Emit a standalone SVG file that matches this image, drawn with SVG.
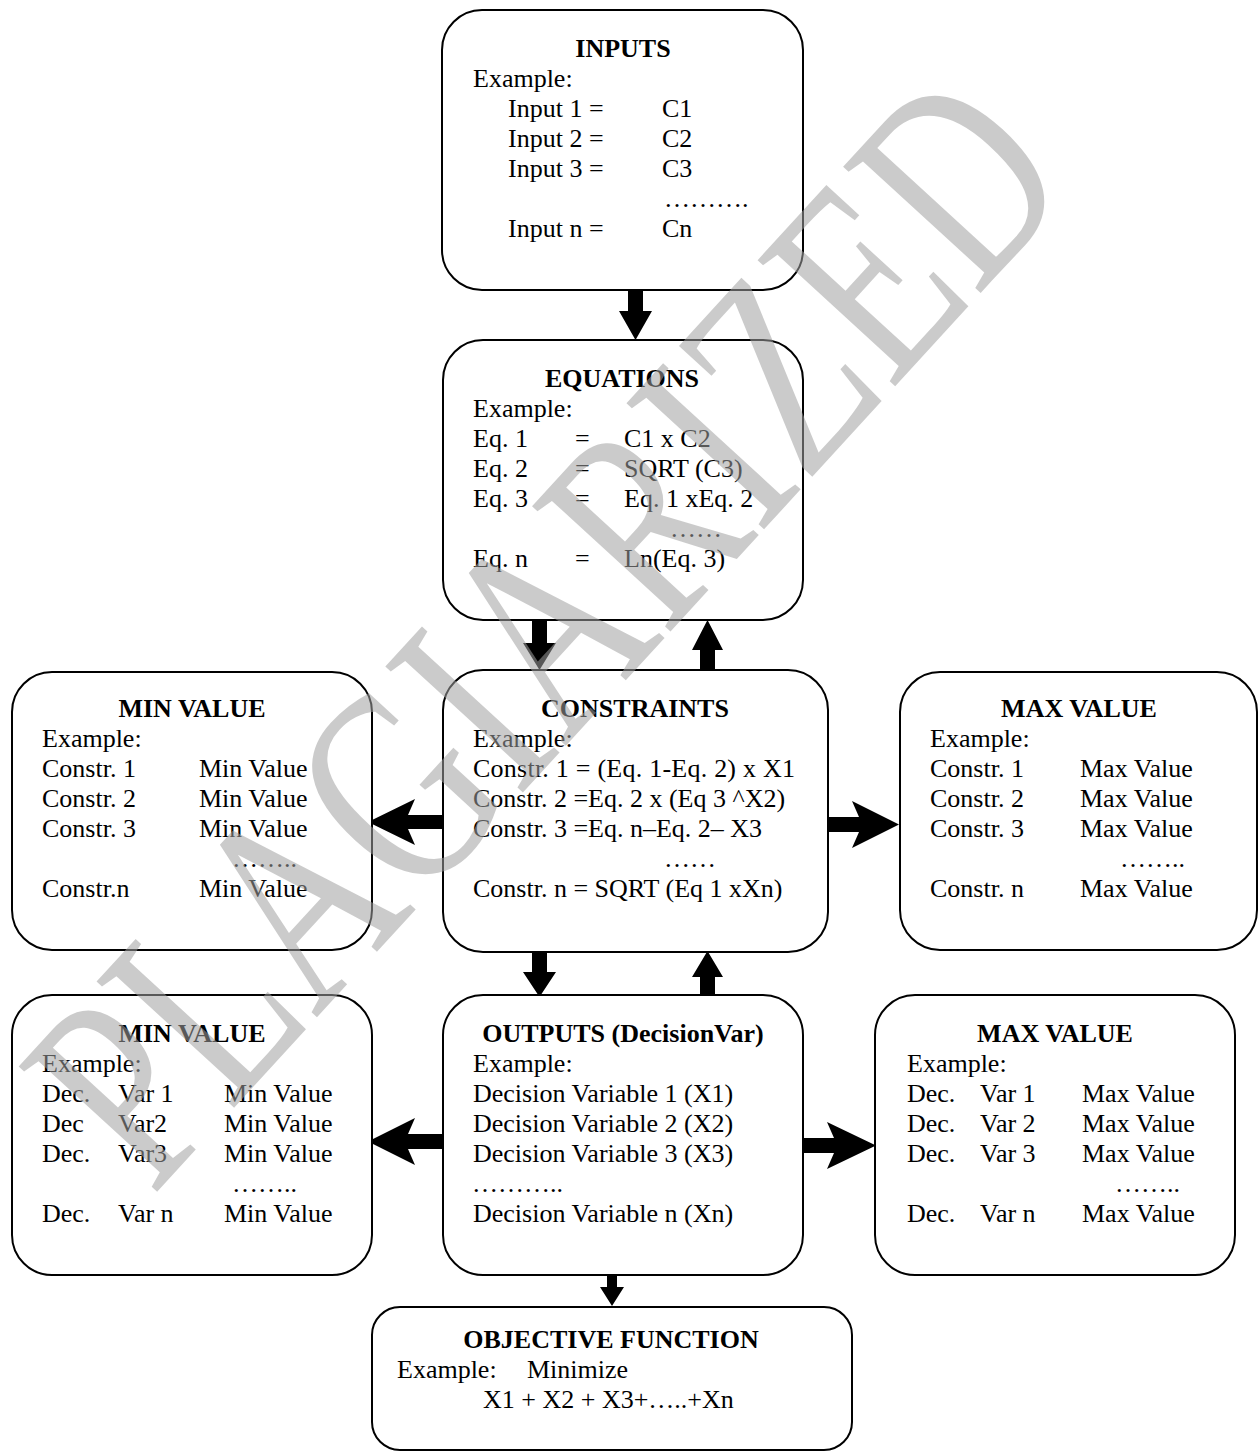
<svg xmlns="http://www.w3.org/2000/svg" width="1258" height="1454" viewBox="0 0 1258 1454">
<style>
text{font-family:"Liberation Serif","Times New Roman",serif;font-size:26px;fill:#000}
.t{font-weight:bold;text-anchor:middle}
.box{fill:#fff;stroke:#000;stroke-width:2}
.arr{fill:#000;stroke:none}
.wm{font-family:"Liberation Serif","Times New Roman",serif;font-size:285px;fill:#a0a0a0;fill-opacity:0.55;text-anchor:middle}
</style>
<rect width="1258" height="1454" fill="#fff"/>
<g id="connectors">
<path class="arr" d="M628,290 H643 V311 H652 L635.5,340 L619,311 H628 Z"/>
<path class="arr" d="M532,620 H547 V643 H556 L539.5,670 L523,643 H532 Z"/>
<path class="arr" d="M700,670 H715 V650 H723 L707.5,620 L692,650 H700 Z"/>
<path class="arr" d="M532,952 H547 V972 H556 L539.5,997 L523,972 H532 Z"/>
<path class="arr" d="M700,995 H715 V977 H723 L707.5,951 L692,977 H700 Z"/>
<path class="arr" d="M607,1275 H617 V1287 H624 L612,1306 L600,1287 H607 Z"/>
<path class="arr" d="M368,822 L415,799 L408,815 H443 V829 H408 L415,845 Z"/>
<path class="arr" d="M899,824.5 L852,801 L859,817 H828 V832 H859 L852,848 Z"/>
<path class="arr" d="M368,1141.5 L415,1118 L408,1134 H443 V1149 H408 L415,1165 Z"/>
<path class="arr" d="M876,1145.5 L827,1122 L834,1138 H803 V1153 H834 L827,1169 Z"/>
</g>
<g id="inputs">
<rect class="box" x="442" y="10" width="361" height="280" rx="40"/>
<text class="t" x="623" y="57">INPUTS</text>
<text x="473" y="87">Example:</text>
<text x="508" y="117">Input 1 =</text><text x="662" y="117">C1</text>
<text x="508" y="147">Input 2 =</text><text x="662" y="147">C2</text>
<text x="508" y="177">Input 3 =</text><text x="662" y="177">C3</text>
<text x="664" y="207">……….</text>
<text x="508" y="237">Input n =</text><text x="662" y="237">Cn</text>
</g>
<g id="equations">
<rect class="box" x="443" y="340" width="360" height="280" rx="40"/>
<text class="t" x="622" y="387">EQUATIONS</text>
<text x="473" y="417">Example:</text>
<text x="473" y="447">Eq. 1</text><text x="575" y="447">=</text><text x="624" y="447">C1 x C2</text>
<text x="473" y="477">Eq. 2</text><text x="575" y="477">=</text><text x="624" y="477">SQRT (C3)</text>
<text x="473" y="507">Eq. 3</text><text x="575" y="507">=</text><text x="624" y="507">Eq. 1 xEq. 2</text>
<text x="670" y="537">……</text>
<text x="473" y="567">Eq. n</text><text x="575" y="567">=</text><text x="624" y="567">Ln(Eq. 3)</text>
</g>
<g id="constraints">
<rect class="box" x="443" y="670" width="385" height="282" rx="40"/>
<text class="t" x="635" y="717">CONSTRAINTS</text>
<text x="473" y="747">Example:</text>
<text x="473" y="777" textLength="322">Constr. 1 = (Eq. 1-Eq. 2) x X1</text>
<text x="473" y="807">Constr. 2 =Eq. 2 x (Eq 3 ^X2)</text>
<text x="473" y="837">Constr. 3 =Eq. n–Eq. 2– X3</text>
<text x="664" y="867">……</text>
<text x="473" y="897">Constr. n = SQRT (Eq 1 xXn)</text>
</g>
<g id="min-constraints">
<rect class="box" x="12" y="672" width="360" height="278" rx="40"/>
<text class="t" x="192" y="717">MIN VALUE</text>
<text x="42" y="747">Example:</text>
<text x="42" y="777">Constr. 1</text><text x="199" y="777">Min Value</text>
<text x="42" y="807">Constr. 2</text><text x="199" y="807">Min Value</text>
<text x="42" y="837">Constr. 3</text><text x="199" y="837">Min Value</text>
<text x="232" y="867">……..</text>
<text x="42" y="897">Constr.n</text><text x="199" y="897">Min Value</text>
</g>
<g id="max-constraints">
<rect class="box" x="900" y="672" width="357" height="278" rx="40"/>
<text class="t" x="1079" y="717">MAX VALUE</text>
<text x="930" y="747">Example:</text>
<text x="930" y="777">Constr. 1</text><text x="1080" y="777">Max Value</text>
<text x="930" y="807">Constr. 2</text><text x="1080" y="807">Max Value</text>
<text x="930" y="837">Constr. 3</text><text x="1080" y="837">Max Value</text>
<text x="1120" y="867">……..</text>
<text x="930" y="897">Constr. n</text><text x="1080" y="897">Max Value</text>
</g>
<g id="outputs">
<rect class="box" x="443" y="995" width="360" height="280" rx="40"/>
<text class="t" x="623" y="1042">OUTPUTS (DecisionVar)</text>
<text x="473" y="1072">Example:</text>
<text x="473" y="1102">Decision Variable 1 (X1)</text>
<text x="473" y="1132">Decision Variable 2 (X2)</text>
<text x="473" y="1162">Decision Variable 3 (X3)</text>
<text x="472" y="1192">………..</text>
<text x="473" y="1222">Decision Variable n (Xn)</text>
</g>
<g id="min-decision">
<rect class="box" x="12" y="995" width="360" height="280" rx="40"/>
<text class="t" x="192" y="1042">MIN VALUE</text>
<text x="42" y="1072">Example:</text>
<text x="42" y="1102">Dec.</text><text x="118" y="1102">Var 1</text><text x="224" y="1102">Min Value</text>
<text x="42" y="1132">Dec</text><text x="118" y="1132">Var2</text><text x="224" y="1132">Min Value</text>
<text x="42" y="1162">Dec.</text><text x="118" y="1162">Var3</text><text x="224" y="1162">Min Value</text>
<text x="232" y="1192">……..</text>
<text x="42" y="1222">Dec.</text><text x="118" y="1222">Var n</text><text x="224" y="1222">Min Value</text>
</g>
<g id="max-decision">
<rect class="box" x="875" y="995" width="360" height="280" rx="40"/>
<text class="t" x="1055" y="1042">MAX VALUE</text>
<text x="907" y="1072">Example:</text>
<text x="907" y="1102">Dec.</text><text x="980" y="1102">Var 1</text><text x="1082" y="1102">Max Value</text>
<text x="907" y="1132">Dec.</text><text x="980" y="1132">Var 2</text><text x="1082" y="1132">Max Value</text>
<text x="907" y="1162">Dec.</text><text x="980" y="1162">Var 3</text><text x="1082" y="1162">Max Value</text>
<text x="1115" y="1192">……..</text>
<text x="907" y="1222">Dec.</text><text x="980" y="1222">Var n</text><text x="1082" y="1222">Max Value</text>
</g>
<g id="objective">
<rect class="box" x="372" y="1307" width="480" height="143" rx="28"/>
<text class="t" x="611" y="1348">OBJECTIVE FUNCTION</text>
<text x="397" y="1378">Example:</text><text x="527" y="1378">Minimize</text>
<text x="483" y="1408">X1 + X2 + X3+…..+Xn</text>
</g>
<g id="watermark">
<text class="wm" transform="translate(615,692) rotate(-47.5)" textLength="1370" lengthAdjust="spacingAndGlyphs">PLAGIARIZED</text>
</g>
</svg>
